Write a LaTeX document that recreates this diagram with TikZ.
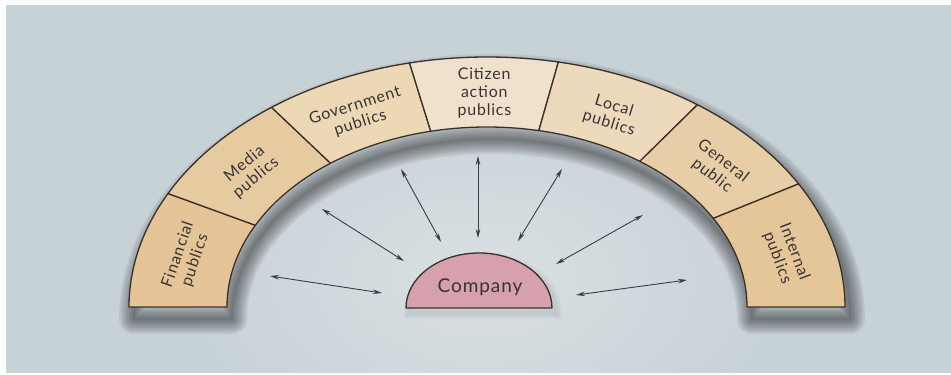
\documentclass[tikz,border=0pt]{standalone}
\usepackage{fontspec}
\setmainfont[LetterSpace=5]{Lato}
\usetikzlibrary{arrows.meta,calc}
\definecolor{bgc}{RGB}{199,210,215}
\definecolor{hlc}{RGB}{218,225,227}
\definecolor{linec}{RGB}{58,48,41}
\definecolor{txtc}{RGB}{56,52,52}
\definecolor{arrc}{RGB}{55,62,70}
\definecolor{compc}{RGB}{214,161,172}
\definecolor{segA}{RGB}{229,197,152}
\definecolor{segB}{RGB}{231,203,160}
\definecolor{segC}{RGB}{237,216,182}
\definecolor{segD}{RGB}{240,225,205}
\definecolor{segE}{RGB}{237,217,187}
\definecolor{segF}{RGB}{232,206,166}
\definecolor{segG}{RGB}{229,198,153}
\newcommand\archshape[2]{(#1,#2) ++(358,0) arc[start angle=0,end angle=180,x radius=358,y radius=250] -- ++(98,0) arc[start angle=180,end angle=0,x radius=260,y radius=180] -- cycle}
\newcommand\archseg[3]{\filldraw[segline, fill=#3] ($(C)+(#1:358 and 250)$) arc[start angle=#1,end angle=#2,x radius=358,y radius=250] -- ($(C)+(#2:260 and 180)$) arc[start angle=#2,end angle=#1,x radius=260,y radius=180] -- cycle;}
\begin{document}
\begin{tikzpicture}[x=1pt,y=1pt,
  segline/.style={draw=linec, line width=1.3pt, line join=round},
  lbl/.style={text=txtc, align=center, font=\fontsize{16}{18}\selectfont, inner sep=0pt},
  biarrow/.style={{Stealth[length=9pt,width=4.5pt]}-{Stealth[length=9pt,width=4.5pt]}, line width=0.9pt, draw=arrc}]
\useasboundingbox (0,0) rectangle (951,375);
\fill[white] (0,0) rectangle (951,375);
\fill[bgc] (6,2) rectangle (951,370);
% central highlight
\begin{scope}
  \clip (6,2) rectangle (951,370);
  \shade[inner color=hlc, outer color=bgc] (483,95) ellipse [x radius=300, y radius=190];
\end{scope}
% soft drop shadow of the arch (offset down and right)
\begin{scope}
  \clip (6,2) rectangle (951,370);
  \foreach \w in {30,26,...,2} {
    \draw[black, opacity=0.065, line width=\w pt, line join=round] \archshape{492}{56};
  }
\end{scope}
% company shadow
\foreach \w in {12,8,4} {
  \draw[black, opacity=0.03, line width=\w pt] (410,62) arc[start angle=180,end angle=0,x radius=73,y radius=55] -- cycle;
}
% arch segments
\coordinate (C) at (487,68);
\archseg{153}{180}{segA}
\archseg{127}{153}{segB}
\archseg{102.5}{127}{segC}
\archseg{78.5}{102.5}{segD}
\archseg{54}{78.5}{segE}
\archseg{29.5}{54}{segF}
\archseg{0}{29.5}{segG}
% labels
\node[lbl, rotate=71.0]  (financial)  at ($(C)+(166.5:309 and 212)$) {Financial\\publics};
\node[lbl, rotate=39.7]  (media)      at ($(C)+(140:309 and 212)$)   {Media\\publics};
\node[lbl, rotate=17.8]  (government) at ($(C)+(114.75:309 and 212)$) {Government\\publics};
\node[lbl, rotate=0.3]   (citizen)    at ($(C)+(90.5:309 and 214)$)  {Citizen\\action\\publics};
\node[lbl, rotate=-17.0] (local)      at ($(C)+(66.25:309 and 210)$) {Local\\publics};
\node[lbl, rotate=-37.9] (general)    at ($(C)+(41.75:309 and 208)$) {General\\public};
\node[lbl, rotate=-69.3] (internal)   at ($(C)+(14.75:309 and 205)$) {Internal\\publics};
% company
\filldraw[segline, fill=compc] (406,67) arc[start angle=180,end angle=0,x radius=73,y radius=55] -- cycle;
\node[text=txtc, font=\fontsize{19}{19}\selectfont, anchor=base, inner sep=0pt] (company) at (480,82) {Company};
% arrows
\coordinate (a1s) at (270,99);  \coordinate (a1e) at (382,82);
\coordinate (a2s) at (322,166); \coordinate (a2e) at (404,114);
\coordinate (a3s) at (401,206); \coordinate (a3e) at (441,133);
\coordinate (a4s) at (478,219); \coordinate (a4e) at (478,137);
\coordinate (a5s) at (562,206); \coordinate (a5e) at (518,134);
\coordinate (a6s) at (643,160); \coordinate (a6e) at (556,111);
\coordinate (a7s) at (687,95);  \coordinate (a7e) at (576,80);
\foreach \i in {1,...,7} { \draw[biarrow] (a\i s) -- (a\i e); }
\end{tikzpicture}
\end{document}
